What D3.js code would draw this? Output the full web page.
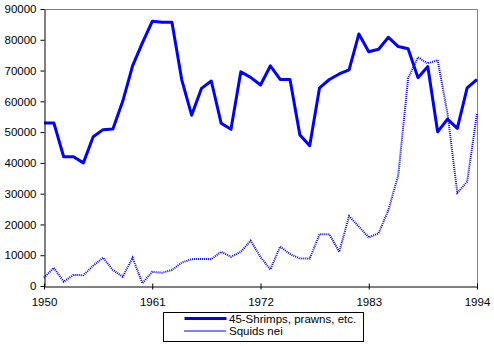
<!DOCTYPE html>
<html>
<head>
<meta charset="utf-8">
<script src="https://cdn.jsdelivr.net/npm/d3@7"></script>
<style>
	body { margin: 0; background: #fff; }
	svg { display: block; font-family: "Liberation Sans", Arial, sans-serif; }
	.axis text { font-size: 11.5px; fill: #000; }
	.legendText { font-size: 11.5px; }
</style>
</head>
<body>
<div id="chart"></div>
<script>
const years = d3.range(1950, 1995)
const shrimps = [53000, 53000, 42000, 42000, 40000, 48500, 50800, 51000, 60000, 71500,
	79000, 86000, 85700, 85700, 67000, 55500, 64200, 66600, 52900, 50900,
	69600, 67800, 65300, 71500, 67100, 67100, 49100, 45600, 64400, 67100,
	68900, 70200, 81900, 76100, 76900, 80800, 77800, 77100, 67700, 71300,
	50100, 54200, 51200, 64400, 67100]
const squids = [2700, 5900, 1400, 3600, 3500, 6600, 9200, 5200, 3000, 9200,
	900, 4600, 4300, 5200, 7600, 8700, 8800, 8700, 11100, 9500,
	11100, 14700, 9400, 5400, 12800, 10400, 8900, 8900, 16800, 16800,
	11100, 22700, 19300, 15800, 17100, 24700, 36000, 67500, 74300, 72300,
	73400, 56100, 30300, 33900, 56100]
const seriesNames = ["45-Shrimps, prawns, etc.", "Squids nei"]
const xTicks = [1950, 1961, 1972, 1983, 1994]
const yTicks = d3.range(0, 90001, 10000)

const margin = { left: 44, top: 9 }
const w = 433, h = 277

const svg = d3.select("#chart").append("svg")
	.attr("width", 494)
	.attr("height", 346)

const xs = d3.scaleLinear().domain([1950, 1994]).range([0, w])
const ys = d3.scaleLinear().domain([0, 90000]).range([h, 0])

const g = svg.append("g").attr("transform", "translate(" + margin.left + "," + margin.top + ")")

// gray frame on top and right
g.append("path")
	.attr("d", "M0.5,0.5H" + (w + 0.5) + "V" + h)
	.attr("fill", "none")
	.attr("stroke", "#808080")

const line = d3.line().x((d, i) => xs(years[i])).y(d => ys(d))

g.append("path")
	.datum(squids)
	.attr("fill", "none")
	.attr("stroke", "#0000ff")
	.attr("stroke-width", 2)
	.attr("stroke-dasharray", "1,1")
	.attr("d", line)

g.append("path")
	.datum(shrimps)
	.attr("fill", "none")
	.attr("stroke", "#0000ff")
	.attr("stroke-width", 3)
	.attr("stroke-linejoin", "round")
	.attr("d", line)

const yAxis = g.append("g")
	.attr("class", "axis")
	.attr("transform", "translate(0.5,0)")
	.call(d3.axisLeft(ys).tickValues(yTicks).tickFormat(d3.format("d")).tickSize(4).tickSizeOuter(0).tickPadding(4))
yAxis.select(".domain").attr("stroke", "#000")

const xAxis = g.append("g")
	.attr("class", "axis")
	.attr("transform", "translate(0," + (h + 0.5) + ")")
	.call(d3.axisBottom(xs).tickValues(xTicks).tickFormat(d3.format("d")).tickSize(3).tickSizeOuter(0).tickPadding(6))
xAxis.selectAll(".tick line").attr("y1", -3).attr("y2", 3)
xAxis.selectAll(".tick text").attr("dy", "0.9em")

// legend
const legend = svg.append("g").attr("transform", "translate(163.5,312.5)")
legend.append("rect")
	.attr("width", 200)
	.attr("height", 29)
	.attr("fill", "#fff")
	.attr("stroke", "#000")

const legendStyles = [{ width: 3, dash: null }, { width: 2, dash: "1,1" }]
seriesNames.forEach((name, i) => {
	const row = legend.append("g").attr("transform", "translate(0," + (6 + i * 12.5) + ")")
	row.append("line")
		.attr("x1", 21).attr("x2", 63)
		.attr("stroke", "#0000ff")
		.attr("stroke-width", legendStyles[i].width)
		.attr("stroke-dasharray", legendStyles[i].dash)
	row.append("text")
		.attr("class", "legendText")
		.attr("x", 65.5)
		.attr("y", 4)
		.text(name)
})
</script>
</body>
</html>
